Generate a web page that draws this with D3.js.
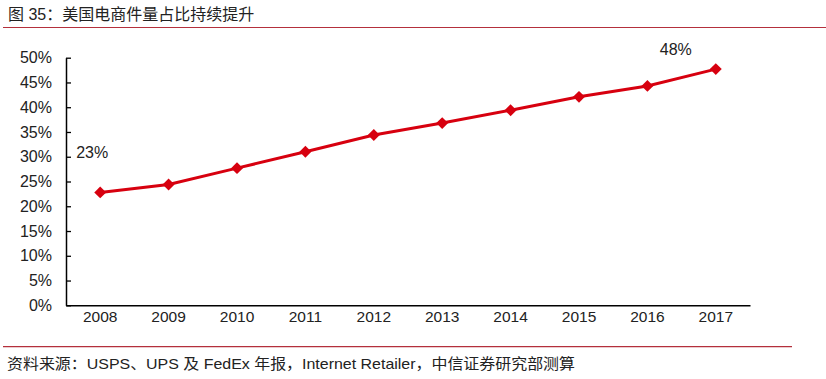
<!DOCTYPE html>
<html><head><meta charset="utf-8">
<script src="https://cdn.jsdelivr.net/npm/d3@7"></script>
<style>body{margin:0;background:#fff}svg{display:block}</style>
</head><body>
<svg id="c" width="826" height="379"></svg>
<script>
const title = "图 35：美国电商件量占比持续提升";
const source = "资料来源：USPS、UPS 及 FedEx 年报，Internet Retailer，中信证券研究部测算";
const years = ["2008","2009","2010","2011","2012","2013","2014","2015","2016","2017"];
const shares = [22.8, 24.4, 27.7, 31.0, 34.4, 36.8, 39.4, 42.1, 44.3, 47.7];
const yTicks = [0,5,10,15,20,25,30,35,40,45,50];
const labelFirst = "23%";
const labelLast = "48%";

(function(){
const svg = d3.select("#c");
const font = "Arial, 'Liberation Sans', 'Noto Sans CJK SC', sans-serif";
const mLeft = 66, mRight = 750, mTop = 57.7, mBottom = 305.3;

svg.append("text").attr("x",8).attr("y",20).attr("font-family",font)
  .attr("font-size",16).attr("fill","#222").text(title);
svg.append("line").attr("x1",3).attr("x2",826).attr("y1",27.5).attr("y2",27.5)
  .attr("stroke","#b4303c").attr("stroke-width",1.2);
svg.append("line").attr("x1",3).attr("x2",792).attr("y1",346.7).attr("y2",346.7)
  .attr("stroke","#b4303c").attr("stroke-width",1.2);
svg.append("text").attr("x",7).attr("y",369).attr("font-family",font)
  .attr("font-size",15).attr("fill","#222")
  .attr("textLength",568).attr("lengthAdjust","spacingAndGlyphs").text(source);

const x = d3.scaleBand().domain(years).range([mLeft,mRight]);
const y = d3.scaleLinear().domain([0,50]).range([mBottom,mTop]);

const yAxis = svg.append("g").attr("transform",`translate(${mLeft},0)`)
  .call(d3.axisLeft(y).tickValues(yTicks).tickFormat(d=>d+"%").tickSizeInner(-5).tickSizeOuter(0).tickPadding(14));
yAxis.select(".domain").attr("stroke","#000").attr("stroke-width",1.5);
yAxis.selectAll(".tick line").attr("stroke","#000").attr("stroke-width",1.3);
yAxis.selectAll("text").attr("font-family",font).attr("font-size",16).attr("fill","#222");

const xAxis = svg.append("g").attr("transform",`translate(0,${mBottom})`)
  .call(d3.axisBottom(x).tickSize(0).tickPadding(6));
xAxis.select(".domain").attr("stroke","#000").attr("stroke-width",1.5);
xAxis.selectAll("text").attr("font-family",font).attr("font-size",15.5).attr("fill","#222");

const line = d3.line().x((d,i)=>x(years[i])+x.bandwidth()/2).y(d=>y(d));
svg.append("path").datum(shares).attr("d",line).attr("fill","none")
  .attr("stroke","#d7000f").attr("stroke-width",3);
svg.selectAll(".m").data(shares).enter().append("path")
  .attr("d",d3.symbol().type(d3.symbolDiamond2).size(90))
  .attr("transform",(d,i)=>`translate(${x(years[i])+x.bandwidth()/2},${y(d)})`)
  .attr("fill","#d7000f");

svg.append("text").attr("x",x(years[0])+x.bandwidth()/2-24).attr("y",y(shares[0])-34)
  .attr("font-family",font).attr("font-size",16).attr("fill","#222").text(labelFirst);
svg.append("text").attr("x",x(years[9])+x.bandwidth()/2-56).attr("y",y(shares[9])-14.5)
  .attr("font-family",font).attr("font-size",16).attr("fill","#222").text(labelLast);
})();
</script>
</body></html>
